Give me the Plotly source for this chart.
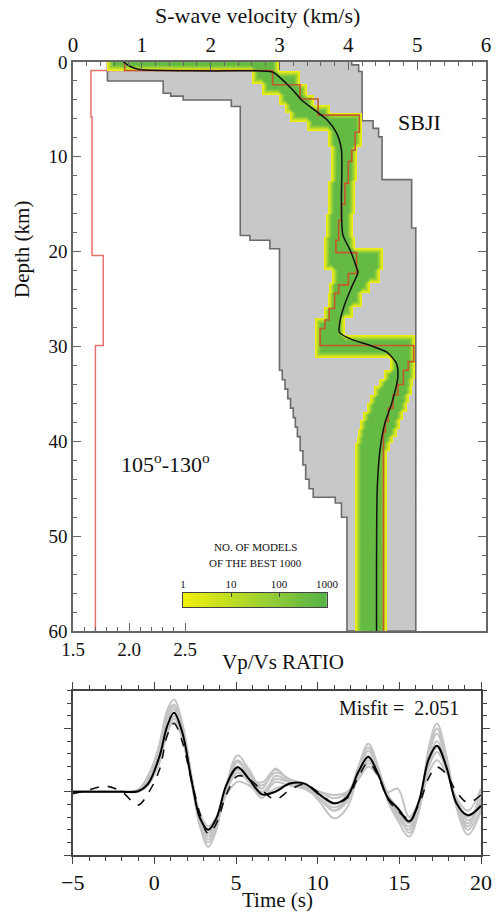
import numpy as np
import plotly.graph_objects as go

W, H = 496, 913

# ---------------- DATA ----------------
# Envelope of all tested Vs models (grey area): layer tops (km) and Vs (km/s)
vsmin_top = [0, 2.0, 3.3, 3.6, 4.0, 4.7, 18.3, 18.8, 19.7, 32.5, 33.5, 34.5, 35.5, 36.5,
             37.5, 38.5, 39.5, 41.0, 42.5, 44.0, 45.0, 45.9, 46.5, 48.0]
vsmin_val = [0.5, 1.31, 1.42, 1.6, 2.3, 2.43, 2.57, 2.86, 3.0, 3.04, 3.08, 3.12, 3.16, 3.2,
             3.23, 3.26, 3.3, 3.34, 3.38, 3.43, 3.49, 3.81, 3.9, 3.98]
vsmax_top = [0, 0.3, 1.0, 6.2, 7.0, 7.9, 12.4, 17.5]
vsmax_val = [4.05, 4.15, 4.2, 4.36, 4.44, 4.49, 4.92, 4.98]

# Extent of the best-1000 model density band
band_top = [0.0, 0.9, 2.3, 3.5, 4.5, 5.4, 6.3, 7.3, 9.0, 12.5, 16.0, 18.5, 19.6, 21.9, 23.3,
            24.4, 25.8, 27.0, 28.8, 31.2, 32.5, 33.4, 34.2, 35.1, 36.0, 36.9, 37.8, 38.7,
            39.5, 40.2, 41.0]
band_left = [0.5, 2.6, 2.75, 3.0, 3.08, 3.15, 3.4, 3.7, 3.75, 3.7, 3.68, 3.64, 3.64, 3.76,
             3.72, 3.7, 3.64, 3.52, 3.52, 4.6, 4.52, 4.45, 4.38, 4.32, 4.27, 4.22, 4.17,
             4.14, 4.12, 4.1, 4.1]
band_right = [3.0, 3.3, 3.4, 3.5, 3.73, 4.2, 4.2, 4.2, 4.12, 4.1, 4.07, 4.1, 4.5, 4.46,
              4.32, 4.2, 4.07, 3.95, 4.97, 4.97, 4.97, 4.94, 4.92, 4.88, 4.85, 4.8, 4.75,
              4.7, 4.65, 4.6, 4.56]

# Best model (step profile)
best_top = [0, 0.9, 2.4, 3.9, 5.6, 7.4, 9.3, 10.5, 12.8, 15.0, 16.7, 18.8, 20.1, 22.3, 23.5,
            24.4, 26.0, 27.2, 28.1, 29.9, 31.6, 32.5, 34.0, 35.1, 36.5, 37.9, 39.0]
best_vs = [0.75, 2.9, 3.3, 3.56, 4.16, 4.1, 4.05, 4.0, 3.95, 3.9, 3.86, 3.82, 4.12, 4.0,
           3.86, 3.8, 3.72, 3.66, 3.59, 4.95, 4.87, 4.8, 4.72, 4.65, 4.58, 4.54, 4.51]

# Smooth (average) model
mean_depth = [0, 0.5, 0.8, 0.95, 1.05, 1.6, 3.0, 4.0, 6.1, 7.5, 9.3, 14.6, 18.2, 19.9, 21.7,
              22.2, 23.7, 25.5, 27.3, 28.5, 29.2, 29.9, 30.6, 31.8, 33.2, 36.0, 38.1, 40.9,
              45, 60]
mean_vs = [0.73, 0.84, 0.97, 2.0, 2.9, 3.0, 3.2, 3.32, 3.69, 3.83, 3.9, 3.9, 3.92, 4.03, 4.12,
           4.14, 4.05, 3.95, 3.88, 3.87, 4.03, 4.32, 4.56, 4.7, 4.72, 4.63, 4.53, 4.46,
           4.42, 4.41]

# Vp/Vs ratio profile
vpvs_top = [0, 0.9, 5.8, 20.4, 29.9]
vpvs_val = [2.95, 1.66, 1.67, 1.77, 1.70]

# Receiver functions
time_s = [-5, -4, -3, -2, -1, -0.4, 0.3, 0.8, 1.2, 1.7, 2.3, 2.8, 3.3, 3.8, 4.4, 5.1, 5.8,
          6.6, 7.4, 8.3, 9.2, 10.1, 11.0, 11.8, 12.5, 13.1, 13.7, 14.3, 14.9, 15.6, 16.2,
          16.8, 17.3, 17.9, 18.5, 19.2, 20.0]
synthetic = [0, 0, 0, 0, 0.01, 0.12, 0.55, 1.05, 1.25, 0.95, 0.15, -0.42, -0.6, -0.42, 0.1,
             0.39, 0.2, -0.04, 0.0, 0.13, 0.13, -0.04, -0.18, -0.08, 0.32, 0.55, 0.28, -0.1,
             -0.26, -0.47, -0.15, 0.52, 0.73, 0.38, -0.18, -0.37, -0.22]
observed = [-0.03, 0.03, 0.09, 0.0, -0.21, -0.03, 0.34, 0.9, 1.08, 0.8, 0.15, -0.35, -0.66,
            -0.5, -0.05, 0.25, 0.2, 0.02, -0.12, 0.03, 0.12, -0.02, -0.18, -0.1, 0.24, 0.46,
            0.25, -0.12, -0.3, -0.42, -0.2, 0.22, 0.39, 0.27, 0.0, -0.17, -0.05]
rf_g1 = [0, 0, 0, 0, 0.02, 0.2, 0.75, 1.3, 1.46, 1.1, 0.2, -0.55, -0.87, -0.6, 0.1, 0.58, 0.35,
         0.05, 0.37, 0.15, 0.05, -0.1, -0.3, -0.15, 0.4, 0.76, 0.4, -0.15, -0.45, -0.71, -0.3,
         0.7, 1.08, 0.55, -0.25, -0.68, -0.3]
rf_g2 = [0, 0, 0, 0, 0.03, 0.25, 0.7, 1.2, 1.34, 1.0, 0.15, -0.5, -0.75, -0.5, 0.05, 0.47, 0.25,
         0.1, 0.3, 0.2, 0.1, -0.15, -0.42, -0.25, 0.3, 0.65, 0.35, -0.05, -0.35, -0.55, -0.2,
         0.6, 0.92, 0.45, -0.2, -0.5, 0.05]
rf_g3 = [0, 0, 0, 0, 0.0, 0.1, 0.45, 0.95, 1.16, 0.9, 0.2, -0.35, -0.55, -0.4, -0.05, 0.16, 0.1,
         -0.05, 0.05, 0.12, 0.1, 0.0, -0.1, -0.02, 0.2, 0.4, 0.25, 0.0, 0.05, -0.4, -0.15, 0.4,
         0.63, 0.35, -0.1, -0.3, 0.05]
rf_g4 = [0, 0, 0, 0, 0.01, 0.15, 0.5, 0.95, 1.1, 0.85, 0.1, -0.45, -0.65, -0.45, 0.0, 0.3, 0.15,
         -0.1, 0.25, 0.15, 0.05, -0.1, -0.25, -0.1, 0.25, 0.5, 0.3, -0.1, -0.3, -0.5, -0.25,
         0.3, 0.5, 0.3, -0.15, -0.45, -0.2]
rf_g5 = [0, 0, 0, 0, 0.02, 0.2, 0.6, 1.15, 1.3, 1.0, 0.2, -0.45, -0.7, -0.5, 0.0, 0.4, 0.2,
         -0.05, 0.15, 0.1, 0.05, 0.0, -0.05, 0.0, 0.25, 0.45, 0.3, -0.1, -0.4, -0.6, -0.2, 0.5,
         0.8, 0.4, -0.2, -0.55, -0.1]
rf_g6 = [0, 0, 0, 0, 0.01, 0.18, 0.55, 1.05, 1.2, 0.95, 0.2, -0.4, -0.6, -0.45, 0.05, 0.35,
         0.2, 0.15, 0.35, 0.18, 0.08, -0.05, -0.2, -0.05, 0.3, 0.58, 0.3, -0.05, -0.25, -0.45,
         -0.15, 0.45, 0.7, 0.35, -0.15, -0.4, -0.15]
rf_g7 = [0, 0, 0, 0, 0.03, 0.22, 0.7, 1.25, 1.38, 1.05, 0.15, -0.55, -0.8, -0.55, 0.05, 0.5,
         0.3, 0.0, 0.2, 0.15, 0.1, -0.1, -0.3, -0.1, 0.4, 0.7, 0.35, -0.1, -0.3, -0.65, -0.3,
         0.6, 1.0, 0.5, -0.2, -0.6, -0.25]
grey_rfs = [rf_g1, rf_g2, rf_g3, rf_g4, rf_g5, rf_g6, rf_g7]

cbar_ticks = ['1', '10', '100', '1000']
vs_ticks = [0, 1, 2, 3, 4, 5, 6]
depth_ticks = [0, 10, 20, 30, 40, 50, 60]
ratio_ticks = ['1.5', '2.0', '2.5']

MAXD = 60.0
FONT = 'Liberation Serif'

# ---------------- helpers ----------------
def px_x(p):
    return p / W

def px_y(p):
    return 1 - p / H

def steps(tops, vals, bottom=MAXD):
    xs, ys = [], []
    for i, v in enumerate(vals):
        d0 = tops[i]
        d1 = tops[i + 1] if i + 1 < len(tops) else bottom
        xs += [v, v]
        ys += [d0, d1]
    return xs, ys

# ---------------- figure ----------------
fig = go.Figure()

# grey envelope polygon
lx, ly = steps(vsmin_top, vsmin_val)
rx, ry = steps(vsmax_top, vsmax_val)
fig.add_trace(go.Scatter(x=lx + rx[::-1], y=ly + ry[::-1], fill='toself', mode='lines',
                         fillcolor='#c7c8ca', line=dict(color='#6b6b6b', width=1.6),
                         xaxis='x', yaxis='y', hoverinfo='skip', showlegend=False))

# density band as an image on an overlay axis
dv, dd = 6.0 / 413, MAXD / 569
vg = np.arange(dv / 2, 6, dv)
dg = np.arange(dd / 2, MAXD, dd)
inside = np.zeros((len(dg), len(vg)), bool)
for i in range(len(band_top)):
    d0 = band_top[i]
    d1 = band_top[i + 1] if i + 1 < len(band_top) else MAXD
    rows = (dg >= d0) & (dg < d1)
    cols = (vg >= band_left[i]) & (vg <= band_right[i])
    inside[np.ix_(rows, cols)] = True
level = inside.astype(float)
cur = inside.copy()
for k in range(6):
    p = np.pad(cur, 1, mode='edge')
    cur = cur & p[:-2, 1:-1] & p[2:, 1:-1] & p[1:-1, :-2] & p[1:-1, 2:]
    level += cur
zb = np.where(inside, level, np.nan)
band_scale = [[0, '#eeec10'], [0.17, '#d8e61c'], [0.34, '#bddd28'],
              [0.5, '#a0d232'], [0.67, '#86c93a'], [0.84, '#71c03f'], [1, '#64ba43']]
fig.add_trace(go.Heatmap(x=vg, y=dg, z=zb, zmin=1, zmax=7, showscale=False,
                         colorscale=band_scale, xaxis='x4', yaxis='y', hoverinfo='skip'))

bx, by = steps(best_top, best_vs)
fig.add_trace(go.Scatter(x=bx, y=by, mode='lines', line=dict(color='#c4582c', width=1.6),
                         xaxis='x4', yaxis='y', hoverinfo='skip', showlegend=False))
fig.add_trace(go.Scatter(x=mean_vs, y=mean_depth, mode='lines',
                         line=dict(color='#111', width=1.5, shape='spline', smoothing=0.7),
                         xaxis='x4', yaxis='y', hoverinfo='skip', showlegend=False))
px_, py_ = steps(vpvs_top, vpvs_val)
fig.add_trace(go.Scatter(x=px_, y=py_, mode='lines', line=dict(color='#e8716e', width=1.5),
                         xaxis='x2', yaxis='y', hoverinfo='skip', showlegend=False))

# colour bar drawn as a small heatmap on its own axes
cb_x = np.linspace(0, 3, 300)
fig.add_trace(go.Heatmap(x=cb_x, y=[0], z=[cb_x], zmin=0, zmax=3, showscale=False,
                         colorscale=[[0, '#f2ee0a'], [0.5, '#a6d52f'], [1, '#55b046']],
                         xaxis='x5', yaxis='y5', hoverinfo='skip'))

# receiver functions
for g in grey_rfs:
    fig.add_trace(go.Scatter(x=time_s, y=g, mode='lines',
                             line=dict(color='#c4c4c4', width=2, shape='spline', smoothing=1),
                             xaxis='x3', yaxis='y3', hoverinfo='skip', showlegend=False))
fig.add_trace(go.Scatter(x=time_s, y=observed, mode='lines',
                         line=dict(color='#111', width=1.6, dash='dash', shape='spline', smoothing=1),
                         xaxis='x3', yaxis='y3', hoverinfo='skip', showlegend=False))
fig.add_trace(go.Scatter(x=time_s, y=synthetic, mode='lines',
                         line=dict(color='#000', width=2, shape='spline', smoothing=1),
                         xaxis='x3', yaxis='y3', hoverinfo='skip', showlegend=False))

top_dom = [px_x(73), px_x(486)]
top_y = [px_y(631), px_y(62)]
axfont = dict(family=FONT, color='#111')

fig.update_layout(
    width=W, height=H, autosize=False,
    margin=dict(l=0, r=0, t=0, b=0, pad=0),
    paper_bgcolor='white', plot_bgcolor='white',
    font=dict(family=FONT, color='#111'),
    xaxis=dict(domain=top_dom, anchor='y', side='top', range=[0, 6], tickvals=vs_ticks,
               ticks='inside', ticklen=8, tickcolor='#666', showline=True, linecolor='#666',
               linewidth=1.5, showgrid=False, zeroline=False, automargin=False,
               tickfont=dict(size=21, **axfont),
               minor=dict(dtick=0.2, ticks='inside', ticklen=4, tickcolor='#666', showgrid=False)),
    xaxis4=dict(overlaying='x', anchor='y', range=[0, 6], visible=False, automargin=False),
    xaxis2=dict(overlaying='x', anchor='y', side='bottom', range=[1.5, 1.5 + 6 * 68.8 / 112],
                tickvals=[1.5, 2.0, 2.5], ticktext=ratio_ticks, ticks='inside', ticklen=8,
                tickcolor='#666', showline=True, linecolor='#666', linewidth=1.5,
                showgrid=False, zeroline=False, automargin=False,
                tickfont=dict(size=19, **axfont),
                minor=dict(tickvals=[1.6, 1.7, 1.8, 1.9, 2.1, 2.2, 2.3, 2.4], ticks='inside',
                           ticklen=4, tickcolor='#666', showgrid=False)),
    yaxis=dict(domain=top_y, anchor='x', range=[MAXD, 0], tickvals=depth_ticks,
               ticks='inside', ticklen=8, tickcolor='#666', showline=True, linecolor='#666',
               linewidth=1.5, mirror='ticks', showgrid=False, zeroline=False, automargin=False,
               tickfont=dict(size=19, **axfont),
               minor=dict(dtick=2, ticks='inside', ticklen=4, tickcolor='#666', showgrid=False)),
    xaxis5=dict(domain=[px_x(183), px_x(327)], anchor='y5', side='top', range=[0, 3],
                tickvals=[0, 1, 2, 3], ticktext=cbar_ticks, ticks='inside', ticklen=4,
                tickcolor='#444', showline=True, linecolor='#444', linewidth=1, mirror=True,
                showgrid=False, zeroline=False, automargin=False,
                tickfont=dict(size=11, **axfont)),
    yaxis5=dict(domain=[px_y(607), px_y(593)], anchor='x5', range=[-0.5, 0.5],
                showticklabels=False, ticks='', showline=True, linecolor='#444', linewidth=1,
                mirror=True, showgrid=False, zeroline=False, automargin=False),
    xaxis3=dict(domain=[px_x(72.7), px_x(481)], anchor='y3', range=[-5, 20], dtick=5,
                ticks='outside', ticklen=7, tickcolor='#444', showline=True, linecolor='#444',
                linewidth=1.5, mirror='ticks', showgrid=False, zeroline=False, automargin=False,
                tickfont=dict(size=22, **axfont),
                minor=dict(dtick=1, ticks='outside', ticklen=4, tickcolor='#444', showgrid=False)),
    yaxis3=dict(domain=[px_y(855), px_y(690.7)], anchor='x3', range=[-1, 1.6],
                tickvals=[-1, 0, 1], showticklabels=False, ticks='outside', ticklen=7,
                tickcolor='#444', showline=True, linecolor='#444', linewidth=1.5,
                mirror='ticks', showgrid=False, zeroline=False, automargin=False,
                minor=dict(dtick=0.2, ticks='outside', ticklen=4, tickcolor='#444', showgrid=False)),
)

def ann(text, x, y, size, xanchor='center', **kw):
    fig.add_annotation(text=text, x=px_x(x), y=px_y(y), xref='paper', yref='paper',
                       xanchor=xanchor, yanchor='middle',
                       showarrow=False, font=dict(family=FONT, size=size, color='#111'), **kw)

ann('S-wave velocity (km/s)', 257, 16, 22)
ann('Depth (km)', 22, 250, 21, textangle=-90)
ann('SBJI', 419, 122, 22)
ann('105<sup>o</sup>-130<sup>o</sup>', 165, 463, 22)
ann('NO. OF MODELS', 255, 547, 11)
ann('OF THE BEST 1000', 255, 563, 11)
ann('Vp/Vs RATIO', 283, 662, 21)
ann('Misfit =  2.051', 461, 708, 20, xanchor='right')
ann('Time (s)', 277, 900, 21)

fig.write_html('out.html')
